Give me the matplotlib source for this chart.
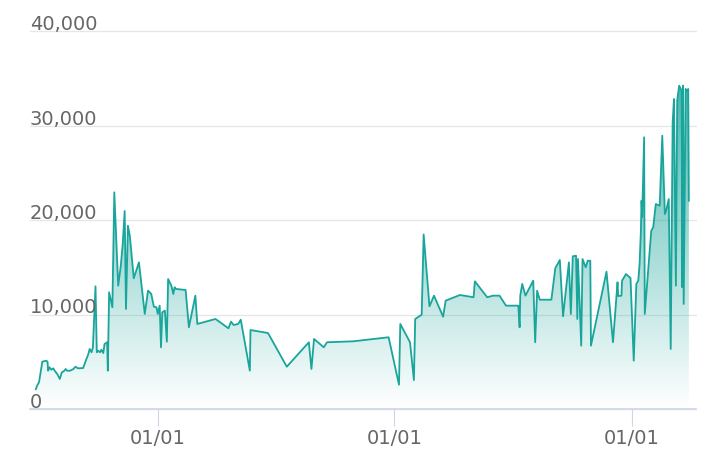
import numpy as np
import pandas as pd
import matplotlib
matplotlib.use('Agg')
import matplotlib.pyplot as plt
import matplotlib.dates as mdates
import matplotlib.transforms as mtransforms
from matplotlib.colors import to_rgb

# days counted from 2019-01-01
day_offsets = [
    -188, -186, -183, -178, -172, -170, -169, -167, -164, -161,
    -159, -155, -151, -148, -145, -142, -140, -135, -130, -127,
    -123, -115, -111, -107, -105, -102, -100, -96, -94, -92,
    -89, -87, -84, -82, -78, -77, -75, -70, -67, -61,
    -57, -54, -51, -49, -46, -43, -37, -29, -20, -15,
    -10, -6, -2, 0, 3, 5, 7, 11, 14, 16,
    21, 24, 26, 28, 43, 48, 58, 61, 89, 109,
    113, 117, 124, 128, 142, 143, 170, 199, 233, 237,
    241, 256, 261, 301, 356, 372, 374, 389, 395, 397,
    407, 410, 419, 426, 440, 444, 466, 487, 489, 508,
    517, 527, 537, 556, 558, 559, 562, 567, 579, 582,
    585, 589, 607, 613, 620, 625, 634, 637, 640, 645,
    647, 648, 653, 655, 660, 663, 667, 668, 692, 702,
    709, 710, 715, 716, 722, 729, 734, 738, 741, 743,
    745, 746, 747, 750, 751, 761, 764, 768, 774, 778,
    782, 784, 788, 791, 794, 796, 799, 801, 804, 808,
    809, 810, 811, 814, 816, 818, 819,
]

values = [
    2100, 2470, 2860, 5010, 5120, 5010, 4060, 4420, 4160, 4310,
    4060, 3710, 3180, 3890, 3990, 4240, 4060, 4060, 4240, 4480,
    4310, 4340, 5120, 5830, 6360, 6010, 6540, 13000, 6010, 6180,
    6010, 6280, 5930, 6890, 7070, 4060, 12370, 10780, 22960, 13070,
    15180, 17480, 20980, 10600, 19420, 18330, 13850, 15540, 10070, 12540,
    12190, 10840, 10780, 10070, 10950, 6540, 10250, 10420, 7130, 13770,
    13070, 12190, 12900, 12720, 12610, 8660, 12010, 9010, 9540, 8550,
    9250, 8900, 9010, 9460, 4060, 8370, 8050, 4480, 7070, 4240,
    7420, 6540, 7070, 7170, 7600, 2570, 9010, 7070, 3070, 9540,
    9990, 18490, 10880, 12010, 9780, 11480, 12080, 11840, 13530, 11840,
    12010, 12010, 10950, 10950, 8660, 12010, 13250, 12010, 13600, 7070,
    12540, 11580, 11580, 14910, 15790, 9820, 15540, 10070, 16180, 16240,
    9540, 15890, 6710, 15890, 15010, 15710, 15710, 6710, 14550, 7070,
    13430, 11970, 12010, 13600, 14300, 13880, 5120, 13250, 13600, 15360,
    18860, 22070, 20340, 28790, 10070, 18890, 19250, 21720, 21540, 28960,
    20660, 21010, 22250, 6360, 30380, 32850, 13070, 32670, 34260, 33730,
    12900, 34260, 11130, 33910, 33730, 33910, 22070,
]

y_ticks = [0, 10000, 20000, 30000, 40000]
x_ticks = ['2019-01-01', '2020-01-01', '2021-01-01']

line_color = '#19a59b'
grid_color = '#e6e6e6'
axis_color = '#ccd6eb'
text_color = '#666666'

base = pd.Timestamp('2019-01-01')
dates = base + pd.to_timedelta(day_offsets, unit='D')
x = mdates.date2num(dates.to_pydatetime())
y = np.array(values, dtype=float)

fig = plt.figure(figsize=(7.16, 4.64), dpi=100)
ax = fig.add_axes([30 / 716, 1 - 410 / 464, 666 / 716, (410 - 30.6) / 464])

x0 = mdates.date2num(base - pd.Timedelta(days=197))
x1 = mdates.date2num(base + pd.Timedelta(days=830))
ax.set_xlim(x0, x1)
ax.set_ylim(0, 40200)

# gradient area under the line
poly = ax.fill_between(x, y, 0, facecolor='none', edgecolor='none')
r, g, b = to_rgb(line_color)
n = 256
alpha = np.linspace(0.0, 0.8, n)
grad = np.zeros((n, 1, 4))
grad[:, 0, 0] = r
grad[:, 0, 1] = g
grad[:, 0, 2] = b
grad[:, 0, 3] = alpha
img = ax.imshow(grad, extent=[x0, x1, 0, y.max()], aspect='auto',
                origin='lower', zorder=1, interpolation='bilinear')
img.set_clip_path(poly.get_paths()[0], transform=ax.transData)

ax.plot(x, y, color=line_color, linewidth=1.3, zorder=3)

# grid + labels
for v in y_ticks:
    ax.axhline(v, color=grid_color, linewidth=0.9, zorder=0, clip_on=False)
trans = mtransforms.blended_transform_factory(ax.transAxes, ax.transData)
for v in y_ticks:
    ax.annotate(f'{v:,}', xy=(0, v), xycoords=trans, xytext=(0, 1.6),
                textcoords='offset points', ha='left', va='baseline',
                fontsize=14, color=text_color, zorder=4)

ax.set_yticks([])
for side in ['left', 'right', 'top']:
    ax.spines[side].set_visible(False)
ax.spines['bottom'].set_color(axis_color)
ax.spines['bottom'].set_linewidth(1.2)

ax.set_xticks(mdates.date2num(pd.to_datetime(x_ticks).to_pydatetime()))
ax.xaxis.set_major_formatter(mdates.DateFormatter('%m/%d'))
ax.tick_params(axis='x', direction='out', length=12, width=0.8,
               color=axis_color, labelcolor=text_color, labelsize=14, pad=1.5)

fig.savefig('out.png', dpi=100)
